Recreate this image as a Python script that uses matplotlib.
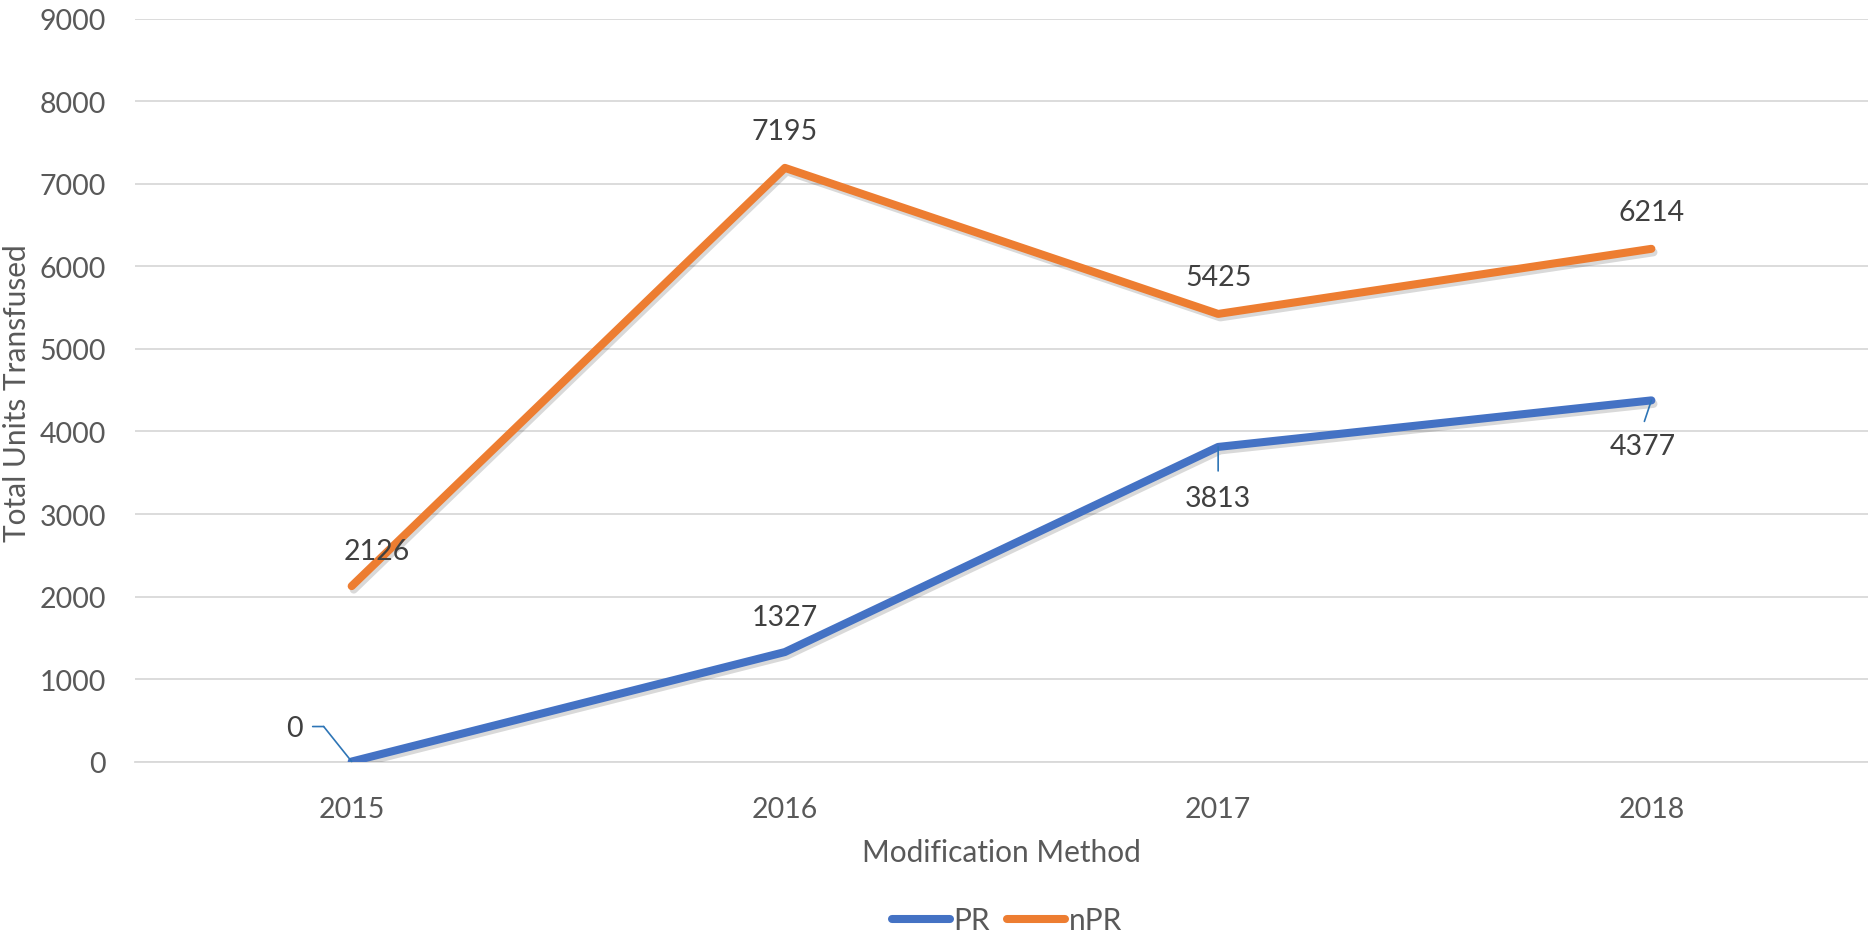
import matplotlib.pyplot as plt
import matplotlib.patheffects as pe
from matplotlib.text import OffsetFrom

years = ["2015", "2016", "2017", "2018"]
pr_units = [0, 1327, 3813, 4377]
npr_units = [2126, 7195, 5425, 6214]

plt.rcParams['font.family'] = ['Lato', 'DejaVu Sans']

fig = plt.figure(figsize=(18.68, 9.37), dpi=100)
ax = fig.add_axes([0.0723, 0.1862, 0.9277, 0.7925])

x = list(range(len(years)))
shadow = [pe.SimpleLineShadow(offset=(1.5, -2.5), alpha=0.15, shadow_color='black'), pe.Normal()]
l1, = ax.plot(x, pr_units, color='#4472C4', lw=5.8, solid_capstyle='round', solid_joinstyle='round',
              label='PR', path_effects=shadow, zorder=3)
l2, = ax.plot(x, npr_units, color='#ED7D31', lw=5.8, solid_capstyle='round', solid_joinstyle='round',
              label='nPR', path_effects=shadow, zorder=3)

ax.set_xlim(-0.5, len(years) - 0.5)
ax.set_ylim(0, 9000)
ax.set_yticks(range(0, 9001, 1000))
ax.set_xticks(x)
ax.set_xticklabels(years)
ax.grid(axis='y', color='#D9D9D9', lw=1.3)
ax.set_axisbelow(True)
for s in ['top', 'right', 'left']:
    ax.spines[s].set_visible(False)
ax.spines['bottom'].set_color('#D9D9D9')
ax.spines['bottom'].set_linewidth(1.3)
ax.tick_params(length=0, labelsize=20.5, labelcolor='#595959')
ax.tick_params(axis='y', pad=21)
ax.tick_params(axis='x', pad=25)

ax.set_xlabel('Modification Method', fontsize=21.5, color='#595959', labelpad=11)
fig.text(17 / 1868, 0.58, 'Total Units Transfused', fontsize=21.5, color='#595959',
         rotation=90, ha='center', va='center')

lab = dict(fontsize=20.5, color='#404040', ha='center', va='center', textcoords='offset pixels')
lead = dict(arrowstyle='-', color='#2E75B6', lw=1.2, shrinkA=0, shrinkB=0)

# nPR labels above
ax.annotate(str(npr_units[0]), (x[0], npr_units[0]), xytext=(25, 35), **lab)
for i in range(1, 4):
    ax.annotate(str(npr_units[i]), (x[i], npr_units[i]), xytext=(0, 37), **lab)

# PR labels
ax.annotate(str(pr_units[1]), (x[1], pr_units[1]), xytext=(0, 35), **lab)

ax.annotate(str(pr_units[0]), (x[0], pr_units[0]), xytext=(-57, 34), **lab)
off0 = OffsetFrom(ax.transData, (x[0], pr_units[0]), unit='pixels')
ax.annotate('', xy=(-28, 35), xycoords=off0, xytext=(-39, 35), textcoords=off0, arrowprops=lead)
ax.annotate('', xy=(0, 0), xycoords=off0, xytext=(-28, 35), textcoords=off0, arrowprops=lead)

ax.annotate(str(pr_units[2]), (x[2], pr_units[2]), xytext=(0, -51), **lab)
ax.annotate('', (x[2], pr_units[2]), xytext=(0, -24), textcoords='offset pixels', arrowprops=lead)
ax.annotate(str(pr_units[3]), (x[3], pr_units[3]), xytext=(-9, -46), **lab)
ax.annotate('', (x[3], pr_units[3]), xytext=(-7, -21), textcoords='offset pixels', arrowprops=lead)

leg = fig.legend(handles=[l1, l2], loc='center', bbox_to_anchor=(0.539, 0.017), ncol=2,
                 frameon=False, fontsize=21.5, labelcolor='#595959', handlelength=1.95,
                 handletextpad=0.12, columnspacing=0.55)
for ln in leg.get_lines():
    ln.set_path_effects([])

fig.savefig('out.png', dpi=100)
